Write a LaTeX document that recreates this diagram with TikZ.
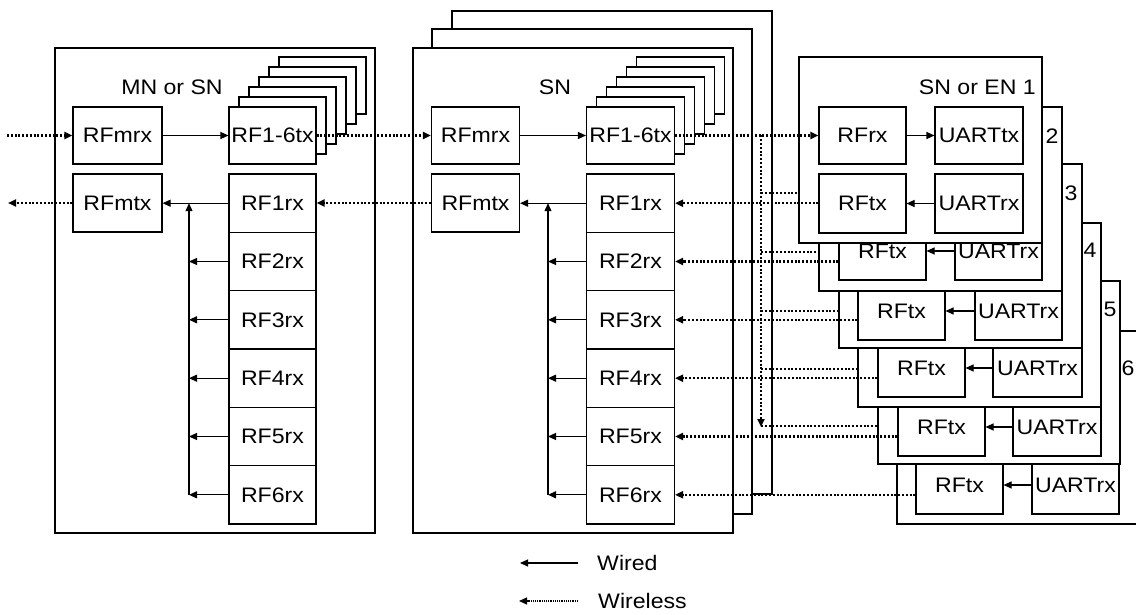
\documentclass[tikz,border=0pt]{standalone}
\usepackage{fontspec}
\setmainfont{Liberation Sans}[FakeStretch=1.1]
\usetikzlibrary{arrows.meta}
\begin{document}
\begin{tikzpicture}[x=1pt,y=-1pt,
  every node/.style={font=\fontsize{21}{24}\selectfont},
  blk/.style={draw, line width=1.1pt, fill=white, inner sep=0pt, minimum width=88pt, minimum height=58pt},
  frame/.style={draw, line width=1.1pt, fill=white, inner sep=0pt},
  lbl/.style={inner sep=0pt},
  wire/.style={line width=1.1pt, -{Triangle[length=8pt,width=7pt]}},
  wless/.style={line width=2.2pt, dash pattern=on 2pt off 1.8pt, -{Triangle[length=8pt,width=7pt]}},
  wlessplain/.style={line width=2.2pt, dash pattern=on 2pt off 1.8pt},
  wlessleg/.style={line width=1.2pt, dash pattern=on 1.2pt off 1pt, -{Triangle[length=8pt,width=7pt]}}]
\clip (0,0) rectangle (1136,615);

% ---------------- left node: MN or SN ----------------
\node[frame, minimum width=320pt, minimum height=485pt] (Lbox) at (215,290.5) {};
\node[lbl] (Llab) at (172,87) {MN or SN};
\node[blk, minimum width=89pt, minimum height=57pt] (Lmrx) at (117.5,135.5) {RFmrx};
\node[blk, minimum width=89pt] (Lmtx) at (117.5,203) {RFmtx};
\foreach \i in {5,4,3,2,1}
  \node[blk, minimum width=87pt, minimum height=57pt] (Ltx\i) at (272.5+10*\i,135.5-10*\i) {};
\node[blk, minimum width=87pt, minimum height=57pt] (Ltx) at (272.5,135.5) {RF1-6tx};
\foreach \k/\y in {1/203.2,2/261.5,3/319.8,4/378.2,5/436.5,6/494.8}
  \node[blk, minimum width=87pt, minimum height=58.3pt] (Lrx\k) at (272.5,\y) {RF\k rx};
\coordinate (Lbus) at (189,0);
\draw[wire] (Lmrx) -- (Ltx);
\draw[wire] (Lrx1.west) -- (Lrx1.west -| Lmtx.east);
\draw[wire] (Lrx6.west -| Lbus) -- (Lrx1.west -| Lbus);
\foreach \k in {2,...,6}
  \draw[wire] (Lrx\k.west) -- (Lrx\k.west -| Lbus);

% ---------------- middle node: SN (stack of 3) ----------------
\node[frame, minimum width=320pt, minimum height=483pt] (Sbk2) at (612,252.5) {};
\node[frame, minimum width=320pt, minimum height=485pt] (Sbk1) at (592,271.5) {};
\node[frame, minimum width=320pt, minimum height=485pt] (Sbox) at (573,290.5) {};
\node[lbl] (Slab) at (555,87) {SN};
\node[blk, minimum width=88pt, minimum height=57pt] (Smrx) at (475.5,135.5) {RFmrx};
\node[blk] (Smtx) at (475.5,203) {RFmtx};
\foreach \i in {5,4,3,2,1}
  \node[blk, minimum width=88pt, minimum height=57pt] (Stx\i) at (630.5+10*\i,135.5-10*\i) {};
\node[blk, minimum width=88pt, minimum height=57pt] (Stx) at (630.5,135.5) {RF1-6tx};
\foreach \k/\y in {1/203.2,2/261.5,3/319.8,4/378.2,5/436.5,6/494.8}
  \node[blk, minimum width=88pt, minimum height=58.3pt] (Srx\k) at (630.5,\y) {RF\k rx};
\coordinate (Sbus) at (548,0);
\draw[wire] (Smrx) -- (Stx);
\draw[wire] (Srx1.west) -- (Srx1.west -| Smtx.east);
\draw[wire] (Srx6.west -| Sbus) -- (Srx1.west -| Sbus);
\foreach \k in {2,...,6}
  \draw[wire] (Srx\k.west) -- (Srx\k.west -| Sbus);

% ---------------- right: SN or EN 1..6 ----------------
% EN 6
\node[frame, minimum width=263pt, minimum height=193pt] (E6) at (1028.5,427.5) {};
\node[lbl] (E6n) at (1128,368) {6};
\node[blk, minimum width=87pt] (E6tx) at (959.5,485) {RFtx};
\node[blk, minimum width=87pt] (E6ur) at (1075.5,485) {UARTrx};
\draw[wire] (E6ur) -- (E6tx);
% EN 5
\node[frame, minimum width=242pt, minimum height=183pt] (E5) at (999,372.5) {};
\node[lbl] (E5n) at (1110,309) {5};
\node[blk, minimum width=87pt] (E5tx) at (941.5,427) {RFtx};
\node[blk, minimum width=88pt] (E5ur) at (1057,427) {UARTrx};
\draw[wire] (E5ur) -- (E5tx);
% EN 4
\node[frame, minimum width=243pt, minimum height=184pt] (E4) at (979.5,315) {};
\node[lbl] (E4n) at (1090,250) {4};
\node[blk, minimum width=87pt] (E4tx) at (921.5,368) {RFtx};
\node[blk, minimum width=89pt] (E4ur) at (1037.5,368) {UARTrx};
\draw[wire] (E4ur) -- (E4tx);
% EN 3
\node[frame, minimum width=243pt, minimum height=184pt] (E3) at (960.5,256) {};
\node[lbl] (E3n) at (1071,193) {3};
\node[blk, minimum width=87pt] (E3tx) at (901.5,311) {RFtx};
\node[blk, minimum width=87pt] (E3ur) at (1018.5,311) {UARTrx};
\draw[wire] (E3ur) -- (E3tx);
% EN 2
\node[frame, minimum width=243pt, minimum height=184pt] (E2) at (940.5,199) {};
\node[lbl] (E2n) at (1052,136) {2};
\node[blk, minimum width=87pt] (E2tx) at (882.5,251) {RFtx};
\node[blk, minimum width=87pt] (E2ur) at (998.5,251) {UARTrx};
\draw[wire] (E2ur) -- (E2tx);
% EN 1
\node[frame, minimum width=243pt, minimum height=186pt] (E1) at (920.5,150) {};
\node[lbl, anchor=east] (E1lab) at (1036,87) {SN or EN 1};
\node[blk, minimum width=87pt, minimum height=57pt] (E1rx) at (862.5,135.5) {RFrx};
\node[blk, minimum width=88pt, minimum height=57pt] (E1ut) at (979,135.5) {UARTtx};
\node[blk, minimum width=87pt, minimum height=59pt] (E1tx) at (862.5,203.5) {RFtx};
\node[blk, minimum width=88pt, minimum height=59pt] (E1ur) at (979,203.5) {UARTrx};
\draw[wire] (E1rx) -- (E1ut);
\draw[wire] (E1ur) -- (E1tx);

% ---------------- wireless links ----------------
\coordinate (inL) at (7,135.5);
\coordinate (outL) at (8,203);
\draw[wless] (inL) -- (Lmrx);
\draw[wless] (Lmtx) -- (outL);
\draw[wless] (Ltx) -- (Smrx);
\draw[wless] (Smtx.west) -- (Smtx.west -| Lrx1.east);
\draw[wless] (Stx) -- (E1rx);
\coordinate (vtop) at (761,135.5);
\coordinate (vbot) at (761,427);
\draw[wless] (vtop) -- (vbot);
\foreach \k/\y in {1/193,2/252,3/311,4/369,5/426}{
  \coordinate (br\k) at (761,\y);
  \draw[wlessplain] (br\k) -- (br\k -| E\k.west);
}
\foreach \k in {1,...,6}
  \draw[wless] (Srx\k.east -| E\k tx.west) -- (Srx\k.east);

% ---------------- legend ----------------
\coordinate (lwA) at (578,563);
\coordinate (lwB) at (520,563);
\draw[wire] (lwA) -- (lwB);
\node[lbl, anchor=west] (legW) at (597,563) {Wired};
\coordinate (llA) at (578,601);
\coordinate (llB) at (519,601);
\draw[wlessleg] (llA) -- (llB);
\node[lbl, anchor=west] (legL) at (598,601) {Wireless};
\end{tikzpicture}
\end{document}
